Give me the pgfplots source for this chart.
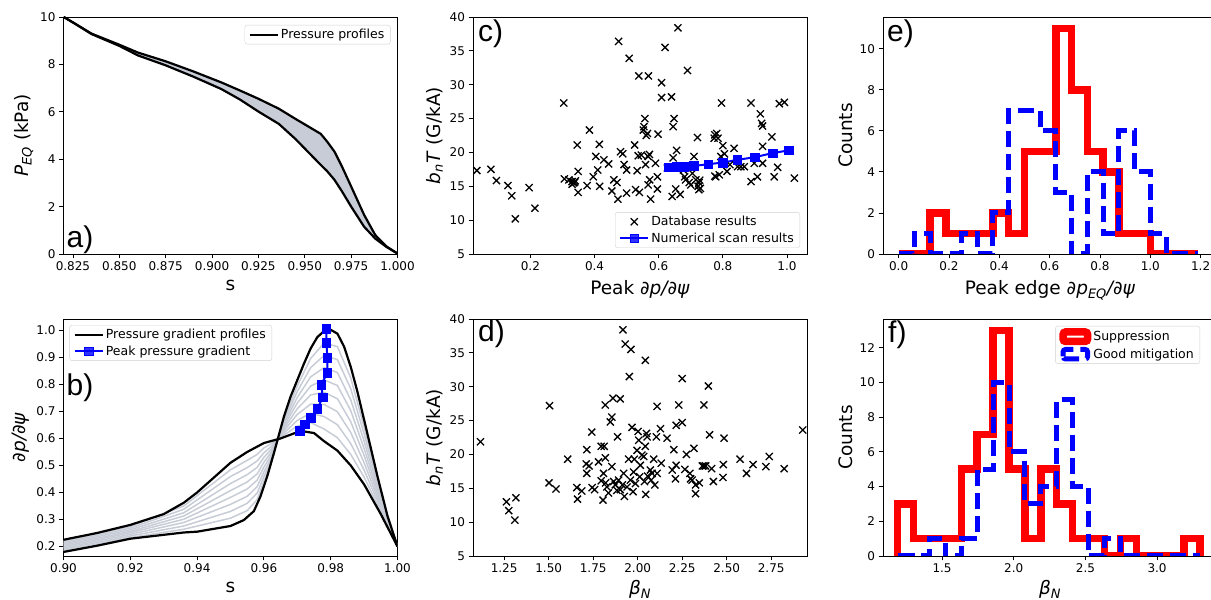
\documentclass[border=0pt]{standalone}
\usepackage{fontspec}
\setmainfont{DejaVu Sans}
\newfontfamily\panelfont{Liberation Sans}
\usepackage{pgfplots}
\pgfplotsset{compat=1.18}

\newcommand{\ticksz}{\fontsize{12}{13.5}\selectfont}
\newcommand{\legsz}{\fontsize{12.5}{14}\selectfont}
\newcommand{\labsz}{\fontsize{18.5}{21}\selectfont}
\newcommand{\pl}{\panelfont\fontsize{30}{32}\selectfont}

\definecolor{lgray}{rgb}{0.78,0.80,0.84}
\definecolor{mblue}{rgb}{0,0,1}
\definecolor{mred}{rgb}{1,0,0}

\pgfplotsset{
  mpl/.style={
    scale only axis, width=334pt, height=237pt,
    axis line style={line width=0.9pt},
    tick align=outside, xtick pos=left, ytick pos=left,
    major tick length=4.5pt,
    tick style={line width=0.9pt, black},
    tick label style={font=\ticksz},
    /pgf/number format/assume math mode=true,
    label style={font=\labsz},
    xlabel style={yshift=-2.5pt},
    legend style={font=\legsz, draw=black!18, rounded corners=2.5pt, fill=white, fill opacity=0.8, text opacity=1, inner xsep=4pt, inner ysep=2pt, row sep=1.5pt},
    legend cell align=left,
    legend image code/.code={\draw[mark repeat=2,mark phase=2,##1] plot coordinates {(0pt,0pt) (14pt,0pt) (28pt,0pt)};},
  },
  scat/.style={only marks, mark=x, mark size=5pt, mark options={line width=1.3pt, black}, black},
  sq/.style={mblue, line width=2pt, mark=square*, mark size=4.3pt, mark options={fill=mblue, draw=mblue, line width=0.5pt}},
  hist/.style={const plot, line width=7.5pt, line join=miter, legend image code/.code={\draw[##1] (0pt,-4.75pt) rectangle (24.5pt,4.75pt);}},
}

\begin{document}
\begin{tikzpicture}
\useasboundingbox (0pt,0pt) rectangle (1211pt,600pt);

% ---------------- a ----------------
\begin{axis}[mpl, at={(63.5pt,346pt)}, anchor=south west,
  xmin=0.8199, xmax=1.0, ymin=0, ymax=10,
  xtick={0.825,0.85,0.875,0.9,0.925,0.95,0.975,1.0},
  xticklabel style={/pgf/number format/.cd,fixed,fixed zerofill,precision=3},
  ytick={0,2,4,6,8,10},
  xlabel={s}, ylabel={\textit{P}\textsubscript{\textit{EQ}} (kPa)},
  legend style={at={(1,1)},anchor=north east, xshift=-7pt, yshift=-8pt}]
\addplot[fill=lgray, draw=none, forget plot] coordinates {
(0.820,10.00)(0.825,9.77)(0.835,9.30)(0.850,8.83)(0.860,8.50)(0.875,8.13)(0.890,7.70)(0.905,7.24)(0.915,6.90)(0.925,6.55)(0.936,6.13)(0.945,5.70)(0.9586,5.07)(0.962,4.75)(0.966,4.32)(0.970,3.70)(0.975,2.85)(0.982,1.65)(0.988,0.80)(0.994,0.32)(1.000,0.02)
(0.994,0.30)(0.988,0.65)(0.982,1.15)(0.975,2.00)(0.970,2.65)(0.966,3.13)(0.962,3.50)(0.9586,3.76)(0.945,4.85)(0.936,5.49)(0.925,6.01)(0.915,6.52)(0.905,6.96)(0.890,7.48)(0.875,7.96)(0.860,8.38)(0.850,8.78)(0.835,9.28)(0.825,9.77)(0.820,10.00)};
\addplot[black, line width=2.2pt] coordinates {
(0.820,10.00)(0.825,9.77)(0.835,9.30)(0.850,8.83)(0.860,8.50)(0.875,8.13)(0.890,7.70)(0.905,7.24)(0.915,6.90)(0.925,6.55)(0.936,6.13)(0.945,5.70)(0.9586,5.07)(0.962,4.75)(0.966,4.32)(0.970,3.70)(0.975,2.85)(0.982,1.65)(0.988,0.80)(0.994,0.32)(1.000,0.02)};
\addlegendentry{Pressure profiles}
\addplot[black, line width=2.2pt, forget plot] coordinates {
(0.820,10.00)(0.825,9.77)(0.835,9.28)(0.850,8.78)(0.860,8.38)(0.875,7.96)(0.890,7.48)(0.905,6.96)(0.915,6.52)(0.925,6.01)(0.936,5.49)(0.945,4.85)(0.9586,3.76)(0.962,3.50)(0.966,3.13)(0.970,2.65)(0.975,2.00)(0.982,1.15)(0.988,0.65)(0.994,0.30)(1.000,0.02)};
\node[font=\pl, anchor=base west, inner sep=0pt] at (rel axis cs:0,0) [xshift=3pt, yshift=6pt] {a)};
\end{axis}

% ---------------- b ----------------
\begin{axis}[mpl, at={(63.5pt,44pt)}, anchor=south west,
  xmin=0.9, xmax=1.0, ymin=0.165, ymax=1.042,
  xtick={0.90,0.92,0.94,0.96,0.98,1.00},
  xticklabel style={/pgf/number format/.cd,fixed,fixed zerofill,precision=2},
  ytick={0.2,0.3,0.4,0.5,0.6,0.7,0.8,0.9,1.0},
  yticklabel style={/pgf/number format/.cd,fixed,fixed zerofill,precision=1},
  xlabel={s}, ylabel={\textit{∂p/∂ψ}},
  legend style={at={(0,1)},anchor=north west, xshift=6pt, yshift=-6pt}]
\addplot[lgray, line width=1.5pt, forget plot] coordinates {(0.90,0.220)(0.92,0.274)(0.936,0.350)(0.95,0.484)(0.955,0.519)(0.958,0.541)(0.96,0.565)(0.962,0.579)(0.966,0.612)(0.970,0.646)(0.974,0.659)(0.978,0.635)(0.982,0.603)(0.986,0.541)(0.990,0.457)(0.995,0.330)(1.0,0.2)};
\addplot[lgray, line width=1.5pt, forget plot] coordinates {(0.90,0.215)(0.92,0.268)(0.936,0.338)(0.95,0.459)(0.955,0.492)(0.958,0.517)(0.96,0.547)(0.962,0.568)(0.966,0.620)(0.970,0.667)(0.974,0.693)(0.978,0.681)(0.982,0.651)(0.986,0.581)(0.990,0.483)(0.995,0.340)(1.0,0.2)};
\addplot[lgray, line width=1.5pt, forget plot] coordinates {(0.90,0.210)(0.92,0.262)(0.936,0.325)(0.95,0.433)(0.955,0.466)(0.958,0.493)(0.96,0.530)(0.962,0.557)(0.966,0.629)(0.970,0.689)(0.974,0.727)(0.978,0.726)(0.982,0.699)(0.986,0.622)(0.990,0.510)(0.995,0.350)(1.0,0.2)};
\addplot[lgray, line width=1.5pt, forget plot] coordinates {(0.90,0.205)(0.92,0.256)(0.936,0.313)(0.95,0.407)(0.955,0.439)(0.958,0.469)(0.96,0.512)(0.962,0.546)(0.966,0.637)(0.970,0.710)(0.974,0.761)(0.978,0.771)(0.982,0.747)(0.986,0.662)(0.990,0.537)(0.995,0.360)(1.0,0.2)};
\addplot[lgray, line width=1.5pt, forget plot] coordinates {(0.90,0.200)(0.92,0.251)(0.936,0.301)(0.95,0.382)(0.955,0.413)(0.958,0.446)(0.96,0.494)(0.962,0.534)(0.966,0.646)(0.970,0.731)(0.974,0.794)(0.978,0.817)(0.982,0.796)(0.986,0.703)(0.990,0.563)(0.995,0.370)(1.0,0.2)};
\addplot[lgray, line width=1.5pt, forget plot] coordinates {(0.90,0.195)(0.92,0.245)(0.936,0.289)(0.95,0.356)(0.955,0.386)(0.958,0.422)(0.96,0.476)(0.962,0.523)(0.966,0.654)(0.970,0.752)(0.974,0.828)(0.978,0.862)(0.982,0.844)(0.986,0.743)(0.990,0.590)(0.995,0.380)(1.0,0.2)};
\addplot[lgray, line width=1.5pt, forget plot] coordinates {(0.90,0.190)(0.92,0.239)(0.936,0.276)(0.95,0.330)(0.955,0.360)(0.958,0.398)(0.96,0.459)(0.962,0.512)(0.966,0.663)(0.970,0.774)(0.974,0.862)(0.978,0.907)(0.982,0.892)(0.986,0.784)(0.990,0.617)(0.995,0.390)(1.0,0.2)};
\addplot[lgray, line width=1.5pt, forget plot] coordinates {(0.90,0.185)(0.92,0.233)(0.936,0.264)(0.95,0.305)(0.955,0.333)(0.958,0.374)(0.96,0.441)(0.962,0.501)(0.966,0.671)(0.970,0.795)(0.974,0.896)(0.978,0.953)(0.982,0.940)(0.986,0.824)(0.990,0.643)(0.995,0.400)(1.0,0.2)};
\addplot[black, line width=2.2pt] coordinates {(0.90,0.180)(0.91,0.203)(0.92,0.229)(0.936,0.252)(0.94,0.255)(0.95,0.276)(0.954,0.298)(0.957,0.331)(0.959,0.386)(0.961,0.460)(0.963,0.546)(0.966,0.681)(0.968,0.755)(0.970,0.816)(0.972,0.877)(0.974,0.933)(0.976,0.975)(0.978,0.997)(0.980,1.002)(0.982,0.988)(0.984,0.940)(0.986,0.865)(0.988,0.773)(0.990,0.669)(0.992,0.565)(0.994,0.460)(0.997,0.313)(1.0,0.200)};
\addlegendentry{Pressure gradient profiles}
\addplot[black, line width=2.2pt, forget plot] coordinates {(0.90,0.225)(0.91,0.250)(0.92,0.280)(0.93,0.320)(0.936,0.362)(0.94,0.400)(0.95,0.510)(0.955,0.550)(0.96,0.583)(0.965,0.600)(0.971,0.628)(0.975,0.620)(0.978,0.590)(0.982,0.555)(0.986,0.500)(0.990,0.430)(0.995,0.320)(1.0,0.200)};
\addplot[sq] coordinates {(0.9708,0.628)(0.9723,0.653)(0.9740,0.677)(0.9760,0.709)(0.9776,0.752)(0.9772,0.798)(0.9790,0.844)(0.9790,0.899)(0.9787,0.955)(0.9787,1.006)};
\addlegendentry{Peak pressure gradient}
\node[font=\pl, anchor=base west, inner sep=0pt] at (rel axis cs:0,1) [xshift=3pt, yshift=-76pt] {b)};
\end{axis}

% ---------------- c ----------------
\begin{axis}[mpl, at={(473pt,346pt)}, anchor=south west,
  xmin=0.021, xmax=1.0625, ymin=5, ymax=40,
  xtick={0.2,0.4,0.6,0.8,1.0},
  xticklabel style={/pgf/number format/.cd,fixed,fixed zerofill,precision=1},
  ytick={5,10,15,20,25,30,35,40},
  xlabel={Peak \textit{∂p/∂ψ}}, ylabel={\textit{b}\textsubscript{\textit{n}}\textit{T} (G/kA)},
  legend style={at={(1,0)},anchor=south east, xshift=-7pt, yshift=6pt}]
\addplot[scat] coordinates {
(0.033,17.33)(0.077,17.5)(0.094,15.85)(0.130,15.1)(0.142,13.6)(0.153,10.2)(0.196,14.8)(0.214,11.76)
(0.304,27.3)(0.306,16.1)(0.320,15.95)(0.330,15.7)(0.335,15.5)(0.340,15.8)(0.330,15.3)(0.338,15.6)
(0.346,21.1)(0.349,17.2)(0.349,14.1)(0.377,15.1)(0.384,23.3)(0.396,16.4)(0.404,19.4)(0.410,17.4)
(0.415,21.2)(0.416,15.0)(0.429,18.9)(0.444,18.3)(0.454,14.3)(0.460,15.95)(0.470,15.55)(0.473,13.1)
(0.475,36.4)(0.481,20.1)(0.488,19.8)(0.492,18.2)(0.500,17.4)(0.500,14.0)(0.508,33.9)(0.525,21.1)
(0.528,14.5)(0.533,17.3)(0.536,19.5)(0.538,31.3)(0.540,14.1)(0.546,19.6)(0.552,23.3)(0.554,23.8)
(0.557,25.0)(0.559,18.2)(0.561,22.5)(0.565,22.8)(0.567,19.4)(0.568,31.3)(0.567,15.2)(0.571,19.7)
(0.572,15.95)(0.575,13.1)(0.590,18.4)(0.596,14.6)(0.598,22.7)(0.596,16.4)(0.609,30.3)(0.609,28.1)
(0.620,35.5)(0.627,17.7)(0.640,28.2)(0.642,13.5)(0.645,23.8)(0.648,25.0)(0.653,14.6)(0.656,20.3)
(0.645,19.2)(0.660,38.4)(0.667,13.8)(0.677,17.4)(0.681,16.4)(0.684,15.95)(0.690,32.1)(0.695,15.55)
(0.700,15.2)(0.705,16.9)(0.710,19.4)(0.716,15.95)(0.721,22.2)(0.723,15.0)(0.726,15.55)(0.730,14.7)
(0.725,14.5)(0.728,15.9)(0.775,16.5)(0.773,22.1)(0.775,22.6)(0.778,16.4)(0.781,22.8)(0.785,22.1)
(0.789,16.7)(0.794,19.4)(0.796,27.3)(0.800,21.0)(0.805,19.8)(0.813,17.2)(0.822,18.2)(0.835,20.6)
(0.846,17.9)(0.856,17.9)(0.867,17.9)(0.888,27.3)(0.888,15.7)(0.898,18.4)(0.908,16.4)(0.917,25.7)
(0.921,24.3)(0.924,23.9)(0.924,20.9)(0.924,18.4)(0.953,22.3)(0.960,16.4)(0.971,17.8)(0.976,27.2)
(0.992,27.4)(1.023,16.2)};
\addlegendentry{Database results}
\addplot[sq] coordinates {(0.63,17.82)(0.655,17.9)(0.68,17.9)(0.71,18.0)(0.755,18.27)(0.80,18.5)(0.845,18.9)(0.90,19.3)(0.955,19.9)(1.005,20.3)};
\addlegendentry{Numerical scan results}
\node[font=\pl, anchor=base west, inner sep=0pt] at (rel axis cs:0,1) [xshift=5pt, yshift=-25pt] {c)};
\end{axis}

% ---------------- d ----------------
\begin{axis}[mpl, at={(473pt,44pt)}, anchor=south west,
  xmin=1.075, xmax=2.951, ymin=5, ymax=40,
  xtick={1.25,1.5,1.75,2.0,2.25,2.5,2.75},
  xticklabel style={/pgf/number format/.cd,fixed,fixed zerofill,precision=2},
  ytick={5,10,15,20,25,30,35,40},
  xlabel style={yshift=2pt},
  xlabel={\textit{β}\textsubscript{\textit{N}}}, ylabel={\textit{b}\textsubscript{\textit{n}}\textit{T} (G/kA)}]
\addplot[scat] coordinates {
(1.117,21.87)(1.263,13.0)(1.276,11.7)(1.310,10.3)(1.316,13.6)(1.505,27.2)(1.502,15.8)(1.541,14.9)
(1.607,19.3)(1.658,15.1)(1.662,13.4)(1.686,14.6)(1.714,20.7)(1.711,18.6)(1.714,17.2)(1.727,18.3)
(1.742,23.3)(1.744,15.1)(1.758,14.8)(1.780,18.9)(1.795,16.1)(1.795,21.2)(1.805,13.25)(1.808,17.2)
(1.812,21.2)(1.818,27.3)(1.818,19.5)(1.820,15.8)(1.827,15.2)(1.836,14.3)(1.846,24.8)(1.855,25.5)
(1.855,18.2)(1.861,28.3)(1.865,16.0)(1.874,15.5)(1.883,14.7)(1.887,22.6)(1.893,16.2)(1.902,28.2)
(1.902,14.8)(1.914,15.5)(1.917,38.4)(1.921,17.2)(1.925,13.8)(1.930,36.3)(1.940,15.2)(1.949,19.3)
(1.953,31.5)(1.959,16.2)(1.962,35.5)(1.968,24.0)(1.974,14.5)(1.977,17.4)(1.981,19.3)(1.987,15.7)
(1.996,20.6)(2.002,23.4)(2.006,22.1)(2.011,16.7)(2.015,18.4)(2.024,19.9)(2.034,19.7)(2.038,16.0)
(2.043,21.2)(2.043,33.9)(2.045,14.1)(2.049,23.1)(2.053,22.6)(2.056,16.8)(2.071,17.7)(2.075,16.2)
(2.081,17.2)(2.090,19.3)(2.096,15.5)(2.105,22.6)(2.109,27.1)(2.109,17.2)(2.128,23.8)(2.132,18.7)
(2.165,22.4)(2.194,17.7)(2.203,20.7)(2.212,16.4)(2.216,24.3)(2.216,18.4)(2.231,27.3)(2.250,24.7)
(2.250,31.2)(2.265,17.8)(2.274,20.0)(2.293,17.2)(2.297,16.4)(2.306,16.2)(2.316,20.9)(2.325,14.2)
(2.325,15.5)(2.346,15.8)(2.363,18.3)(2.372,27.3)(2.372,18.3)(2.382,18.3)(2.397,30.1)(2.404,22.9)
(2.415,17.9)(2.425,16.0)(2.485,22.4)(2.479,16.6)(2.481,18.5)(2.575,19.3)(2.611,17.2)(2.648,18.5)
(2.720,18.2)(2.739,19.7)(2.823,17.9)(2.927,23.6)};
\node[font=\pl, anchor=base west, inner sep=0pt] at (rel axis cs:0,1) [xshift=5pt, yshift=-23pt] {d)};
\end{axis}

% ---------------- e ----------------
\begin{axis}[mpl, at={(883pt,346pt)}, anchor=south west,
  xmin=-0.062, xmax=1.265, ymin=0, ymax=11.55,
  xtick={0,0.2,0.4,0.6,0.8,1.0,1.2},
  xticklabel style={/pgf/number format/.cd,fixed,fixed zerofill,precision=1},
  ytick={0,2,4,6,8,10},
  xlabel={Peak edge \textit{∂p}\textsubscript{\textit{EQ}}\textit{/∂ψ}}, ylabel={Counts}]
\addplot[hist, mred] coordinates {(0,0)(0.0625,0)(0.125,2)(0.1875,1)(0.25,1)(0.3125,1)(0.375,2)(0.4375,1)(0.5,5)(0.5625,5)(0.625,11)(0.6875,8)(0.75,5)(0.8125,4)(0.875,1)(0.9375,1)(1.0,0)(1.0625,0)(1.125,0)(1.1875,0)};
\addplot[hist, mblue, line width=5pt, dash pattern=on 16pt off 7pt] coordinates {(0,0)(0.0625,1)(0.125,0)(0.1875,0)(0.25,1)(0.3125,0)(0.375,2)(0.4375,7)(0.5,7)(0.5625,6)(0.625,3)(0.6875,0)(0.75,4)(0.8125,1)(0.875,6)(0.9375,4)(1.0,1)(1.0625,0)(1.125,0)(1.1875,0)};
\node[font=\pl, anchor=base west, inner sep=0pt] at (rel axis cs:0,1) [xshift=4pt, yshift=-25pt] {e)};
\end{axis}

% ---------------- f ----------------
\begin{axis}[mpl, at={(883pt,44pt)}, anchor=south west,
  xmin=1.088, xmax=3.418, ymin=0, ymax=13.65,
  xtick={1.5,2.0,2.5,3.0},
  xticklabel style={/pgf/number format/.cd,fixed,fixed zerofill,precision=1},
  ytick={0,2,4,6,8,10,12},
  xlabel style={yshift=2pt},
  xlabel={\textit{β}\textsubscript{\textit{N}}}, ylabel={Counts},
  legend style={at={(1,1)},anchor=north east, xshift=-17pt, yshift=-7pt}]
\addplot[hist, mred] coordinates {(1.19,0)(1.19,3)(1.301,1)(1.412,1)(1.523,1)(1.634,5)(1.745,7)(1.856,13)(1.967,5)(2.078,1)(2.189,5)(2.300,3)(2.411,1)(2.522,1)(2.633,0)(2.744,1)(2.855,0)(2.966,0)(3.077,0)(3.188,1)(3.299,1)(3.299,0)};
\addlegendentry{Suppression}
\addplot[hist, mblue, line width=5pt, dash pattern=on 16pt off 7pt] coordinates {(1.19,0)(1.301,0)(1.412,1)(1.523,0)(1.634,1)(1.745,5)(1.856,10)(1.967,6)(2.078,3)(2.189,4)(2.300,9)(2.411,4)(2.522,0)(2.633,1)(2.744,0)(2.855,0)(2.966,0)(3.077,0)(3.188,0)(3.299,0)};
\addlegendentry{Good mitigation}
\node[font=\pl, anchor=base west, inner sep=0pt] at (rel axis cs:0,1) [xshift=5pt, yshift=-24pt] {f)};
\end{axis}
\end{tikzpicture}
\end{document}
